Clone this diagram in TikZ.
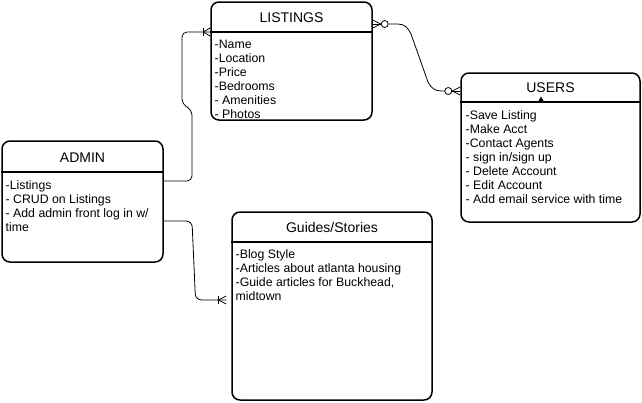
\documentclass[tikz,border=0pt]{standalone}
\usepackage{fontspec}
\setmainfont{Liberation Sans}
\usetikzlibrary{calc}
\begin{document}
\begin{tikzpicture}[x=1pt,y=-1pt,
  box/.style={draw=black, line width=1.5pt, rounded corners=8pt, rectangle, inner sep=0pt, fill=white},
  hdr/.style={anchor=base, font=\fontsize{14}{16}\selectfont, inner sep=0pt},
  body/.style={anchor=north west, align=left, font=\fontsize{12.3}{14}\selectfont, inner sep=0pt},
  conn/.style={draw=black, line width=0.8pt},
  sep/.style={line width=1.5pt}]
\useasboundingbox (0,0) rectangle (642,402);

% boxes
\node[box, minimum width=161pt, minimum height=118pt] (listings) at (291.5,61) {};
\node[box, minimum width=179pt, minimum height=149pt] (users) at (550.5,147.5) {};
\node[box, minimum width=161pt, minimum height=121pt] (admin) at (82.5,201.5) {};
\node[box, minimum width=200pt, minimum height=188pt] (guides) at (332,306) {};

% header separators
\draw[sep] (listings.west |- 0,32) -- (listings.east |- 0,32);
\draw[sep] (users.west |- 0,102) -- (users.east |- 0,102);
\draw[sep] (admin.west |- 0,172) -- (admin.east |- 0,172);
\draw[sep] (guides.west |- 0,242) -- (guides.east |- 0,242);

% headers
\node[hdr] (listingsT) at (291.5,22) {LISTINGS};
\node[hdr] (usersT) at (550.5,92) {USERS};
\node[hdr] (adminT) at (82.5,162) {ADMIN};
\node[hdr] (guidesT) at (332,232) {Guides/Stories};

% bodies
\node[body] (listingsB) at (214.5,40.3) {-Name\\-Location\\-Price\\-Bedrooms\\- Amenities\\- Photos};
\node[body] (usersB) at (465.5,110.3) {-Save Listing\\-Make Acct\\-Contact Agents\\- sign in/sign up\\- Delete Account\\- Edit Account\\- Add email service with time};
\node[body] (adminB) at (5.5,180.3) {-Listings\\- CRUD on Listings\\- Add admin front log in w/\\time};
\node[body] (guidesB) at (235.5,249.5) {-Blog Style\\-Articles about atlanta housing\\-Guide articles for Buckhead,\\midtown};

% marker on USERS header
\fill[black] (537.5,102.5) -- (544.5,102.5) -- (541,96.5) -- cycle;

% connection points
\path (listings.east |- 0,24) coordinate (LR);
\path (users.west |- 0,91) coordinate (UL);
\path (admin.east |- 0,181) coordinate (A1);
\path (admin.east |- 0,221) coordinate (A2);
\path (listings.west |- 0,32) coordinate (LL);
\path ([xshift=-5pt]guides.west |- 0,300) coordinate (GL);

% Listings -> Users (many-optional on both ends)
\draw[conn] ($(LR)+(0,-4)$) -- ($(LR)+(8,0)$) -- ($(LR)+(0,4)$);
\draw[conn] (LR) -- ($(LR)+(8.5,0)$);
\draw[conn] ($(LR)+(12,0)$) circle (3.5);
\draw[conn] ($(LR)+(15.5,0)$) -- (398,24) .. controls (405,24) and (408,28) .. (411,34)
  -- (428,82) .. controls (431,88) and (435,91) .. (441,91) -- ($(UL)+(-15.5,0)$);
\draw[conn] ($(UL)+(-12,0)$) circle (3.5);
\draw[conn] ($(UL)+(0,-4)$) -- ($(UL)+(-8,0)$) -- ($(UL)+(0,4)$);
\draw[conn] (UL) -- ($(UL)+(-8.5,0)$);

% Admin -> Listings (one-or-many)
\draw[conn, rounded corners=5pt] (A1) -- (192,181) -- (192,110) -- (182,104) -- (182,32) -- (LL);
\draw[conn] ($(LL)+(-7,-4)$) -- ($(LL)+(-7,4)$);
\draw[conn] ($(LL)+(0,-4)$) -- ($(LL)+(-7,0)$) -- ($(LL)+(0,4)$);

% Admin -> Guides (one-or-many)
\draw[conn, rounded corners=6pt] (A2) -- (192,221) -- (195.5,300) -- (GL);
\draw[conn] ($(GL)+(-8,-4)$) -- ($(GL)+(-8,4)$);
\draw[conn] ($(GL)+(0,-4)$) -- ($(GL)+(-8,0)$) -- ($(GL)+(0,4)$);
\end{tikzpicture}
\end{document}
